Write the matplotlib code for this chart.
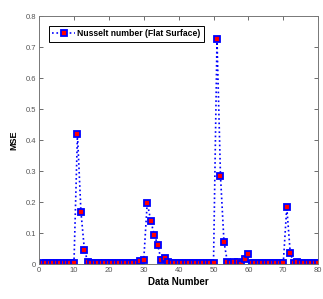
import matplotlib.pyplot as plt
import numpy as np

# data numbers 1..80 and MSE values
data_number = np.arange(1, 81)
mse = [0.002, 0.002, 0.002, 0.002, 0.002, 0.002, 0.002, 0.002, 0.002, 0.003,
       0.420, 0.168, 0.045, 0.006, 0.003, 0.002, 0.002, 0.002, 0.002, 0.002,
       0.002, 0.002, 0.002, 0.002, 0.002, 0.002, 0.002, 0.004, 0.010, 0.012,
       0.198, 0.140, 0.095, 0.062, 0.012, 0.020, 0.006, 0.002, 0.002, 0.002,
       0.002, 0.002, 0.002, 0.002, 0.002, 0.002, 0.002, 0.002, 0.002, 0.002,
       0.725, 0.285, 0.072, 0.005, 0.003, 0.008, 0.006, 0.001, 0.015, 0.031,
       0.002, 0.002, 0.002, 0.002, 0.002, 0.002, 0.002, 0.002, 0.002, 0.002,
       0.184, 0.036, 0.002, 0.005, 0.004, 0.002, 0.002, 0.002, 0.002, 0.002]
series_label = 'Nusselt number (Flat Surface)'

plt.rcParams['font.family'] = ['Liberation Sans', 'DejaVu Sans']

fig = plt.figure(figsize=(3.23, 2.99), dpi=100)
ax = fig.add_axes([0.121, 0.117, 0.864, 0.829])

ax.plot(data_number, mse, linestyle=':', color='blue', linewidth=1.2,
        marker='s', markersize=5, markerfacecolor='red',
        markeredgecolor='blue', markeredgewidth=1.3, label=series_label)

ax.set_xlim(0, 80)
ax.set_ylim(0, 0.8)
ax.set_xticks(np.arange(0, 81, 10))
ax.set_yticks(np.arange(0, 0.81, 0.1))
ax.set_yticklabels(['0', '0.1', '0.2', '0.3', '0.4', '0.5', '0.6', '0.7', '0.8'])

ax.tick_params(direction='in', top=True, right=True, labelsize=5.5,
               colors='#555555', length=3, width=0.6, pad=2)
for s in ax.spines.values():
    s.set_color('#777777')
    s.set_linewidth(0.7)

ax.set_xlabel('Data Number', fontsize=7, fontweight='bold', labelpad=2)
ax.set_ylabel('MSE', fontsize=6.5, fontweight='bold', labelpad=5)

leg = ax.legend(loc='upper left', prop={'weight': 'bold', 'size': 6.2},
                fancybox=False, edgecolor='black', framealpha=1,
                borderaxespad=1.2, handlelength=2.6, borderpad=0.35,
                handletextpad=0.3)
leg.get_frame().set_linewidth(0.7)

fig.savefig('out.png', dpi=100)
